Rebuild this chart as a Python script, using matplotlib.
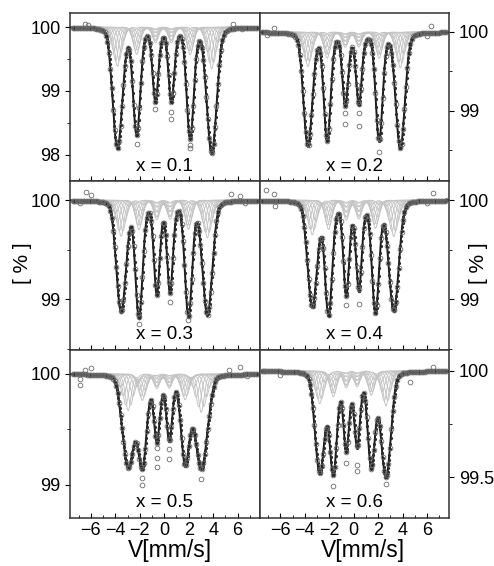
import numpy as np
import matplotlib.pyplot as plt
from matplotlib.ticker import MultipleLocator

plt.rcParams['font.family'] = ['Liberation Sans', 'DejaVu Sans']

labels = ["x = 0.1", "x = 0.2", "x = 0.3", "x = 0.4", "x = 0.5", "x = 0.6"]

# positions (mm/s) of the six absorption lines
line_pos = [
    [-3.83, -2.26, -0.72, 0.58, 2.12, 3.88],
    [-3.75, -2.17, -0.69, 0.42, 2.08, 3.81],
    [-3.53, -2.07, -0.61, 0.47, 1.98, 3.53],
    [-3.39, -2.06, -0.61, 0.42, 1.78, 3.28],
    [-2.95, -1.79, -0.61, 0.41, 1.71, 3.03],
    [-2.78, -1.67, -0.61, 0.28, 1.44, 2.64],
]
# depth of each line below 100 %
line_depth = [
    [1.90, 1.70, 1.18, 1.18, 1.75, 1.98],
    [1.44, 1.38, 0.94, 0.93, 1.38, 1.47],
    [1.13, 1.19, 0.96, 0.94, 1.18, 1.16],
    [1.08, 1.17, 0.97, 0.92, 1.14, 1.12],
    [0.85, 0.86, 0.62, 0.61, 0.83, 0.86],
    [0.48, 0.49, 0.38, 0.36, 0.46, 0.50],
]
# relative width of the hyperfine field distribution
field_spread = [0.078, 0.071, 0.085, 0.09, 0.136, 0.11]
# sub-spectra of the distribution (relative field offset, weight)
comp_z = [-2.0, -1.5, -1.0, -0.5, 0.0, 0.5, 1.0, 1.5, 2.0]
comp_w = [0.15, 0.35, 0.6, 0.85, 1.0, 0.85, 0.6, 0.35, 0.15]
line_width = 0.55
lorentz_frac = 0.25

# measured points that sit off the fitted curve
extra_v = [
    [-2.26, -0.72, 0.58, 0.58, 2.12, 2.12, -6.5, -6.2, 5.6, 6.4],
    [-0.69, -0.69, 0.42, 0.42, 2.08, -7.1, -6.5, 6.3, 6.0],
    [-2.07, 0.47, 1.98, -6.4, -6.0, -6.9, 5.5, 6.2, 6.6],
    [-0.61, 0.42, -2.6, -7.2, -6.5, 6.5, 6.0, -6.4],
    [-1.79, -1.79, -0.61, -0.61, -0.61, 0.41, 0.41, 3.03, -6.9, -6.9, -6.5, -6.0, 5.3, 6.2, 6.8],
    [-1.67, -0.61, 0.28, 0.28, 2.64, -7.3, -6.0, 4.6, 6.5],
]
extra_t = [
    [98.16, 98.71, 98.66, 98.55, 98.15, 98.10, 100.05, 100.03, 100.04, 99.97],
    [98.98, 98.84, 98.98, 98.81, 98.48, 99.96, 100.05, 100.08, 99.95],
    [98.75, 98.97, 98.79, 100.08, 100.05, 99.97, 100.06, 100.04, 99.97],
    [98.94, 98.95, 99.53, 100.10, 100.06, 100.07, 99.97, 99.94],
    [99.06, 99.00, 99.33, 99.24, 99.16, 99.32, 99.23, 99.05, 99.95, 99.90, 100.04, 100.05, 100.04, 100.06, 99.98],
    [99.46, 99.57, 99.56, 99.53, 99.47, 100.00, 99.98, 99.95, 100.02],
]

ylims = [(97.58, 100.22), (98.11, 100.24), (98.49, 100.19), (98.49, 100.19), (98.70, 100.22), (99.31, 100.10)]
yticks = [[98, 99, 100], [99, 100], [99, 100], [99, 100], [99, 100], [99.5, 100]]
yminor = [0.5, 0.5, 0.5, 0.5, 0.5, 0.25]


def shape(x):
    u = 2.0 * x / line_width
    return lorentz_frac / (1.0 + u ** 2) + (1 - lorentz_frac) * np.exp(-np.log(2) * u ** 2)


def model(v, pos, dep, spread):
    pos = np.array(pos)
    c = pos.mean()
    scale = 1.0 + spread * np.array(comp_z)
    w = np.array(comp_w)
    pk = c + np.outer(scale, pos - c)   # component line positions [k, i]
    norm = np.array([(w * shape(pos[i] - pk[:, i])).sum() for i in range(6)])

    def prof(x):
        x = np.atleast_1d(x)
        out = np.zeros((len(x), 6))
        for i in range(6):
            out[:, i] = (w[None, :] * shape(x[:, None] - pk[None, :, i])).sum(axis=1) / norm[i]
        return out

    amp = np.linalg.solve(prof(pos), np.array(dep))
    total = 100 - prof(v) @ amp
    comps = []
    for k in range(len(w)):
        s = np.zeros_like(v)
        for i in range(6):
            s += amp[i] * w[k] * shape(v - pk[k, i]) / norm[i]
        comps.append(100 - s)
    return total, comps


fig, axes = plt.subplots(3, 2, figsize=(4.94, 5.66), dpi=100, sharex=True)
fig.subplots_adjust(left=0.142, right=0.909, top=0.977, bottom=0.085, wspace=0, hspace=0)

v_fine = np.linspace(-7.7, 7.8, 900)
v_dots = np.linspace(-7.5, 7.6, 420)
v_chan = np.linspace(-7.5, 7.6, 128)

for n, ax in enumerate(axes.flat):
    total, comps = model(v_fine, line_pos[n], line_depth[n], field_spread[n])
    for comp in comps:
        ax.plot(v_fine, comp, color='#c4c4c4', lw=0.7, zorder=1)
    dots, _ = model(v_dots, line_pos[n], line_depth[n], field_spread[n])
    data, _ = model(v_chan, line_pos[n], line_depth[n], field_spread[n])
    ax.plot(v_fine, total, color='#1a1a1a', lw=1.4, zorder=3)
    ax.plot(v_dots, dots, 'o', ms=2.3, color='#2a2a2a', mew=0, zorder=3)
    ax.plot(v_chan, data, 'o', ms=3.4, mfc='none', mec='#6a6a6a', mew=0.6, zorder=4)
    ax.plot(extra_v[n], extra_t[n], 'o', ms=3.4, mfc='none', mec='#6a6a6a', mew=0.6, zorder=4)

    ax.set_xlim(-7.7, 7.8)
    ax.set_ylim(*ylims[n])
    ax.set_yticks(yticks[n])
    ax.yaxis.set_minor_locator(MultipleLocator(yminor[n]))
    ax.set_yticklabels([f"{t:g}" for t in yticks[n]])
    ax.xaxis.set_major_locator(MultipleLocator(2))
    ax.xaxis.set_minor_locator(MultipleLocator(1))
    ax.tick_params(axis='x', which='both', direction='in', top=False, labelsize=13, pad=3)
    ax.tick_params(axis='x', which='major', length=3.5)
    ax.tick_params(axis='x', which='minor', length=2)
    ax.tick_params(axis='y', which='both', direction='out', labelsize=13)
    ax.tick_params(axis='y', which='major', length=3.5)
    ax.tick_params(axis='y', which='minor', length=2)
    if n % 2 == 1:
        ax.yaxis.tick_right()
    for sp in ax.spines.values():
        sp.set_color('#333333')
        sp.set_linewidth(1.1)
    ax.text(0.5, 0.09, labels[n], transform=ax.transAxes, ha='center', va='center', fontsize=13.5)

fig.text(0.045, 0.535, "[ % ]", rotation=90, ha='center', va='center', fontsize=15)
fig.text(0.968, 0.535, "[ % ]", rotation=90, ha='center', va='center', fontsize=15)
fig.text(0.345, 0.027, "V[mm/s]", ha='center', va='center', fontsize=16.5)
fig.text(0.735, 0.027, "V[mm/s]", ha='center', va='center', fontsize=16.5)

fig.savefig("out.png", dpi=100)
